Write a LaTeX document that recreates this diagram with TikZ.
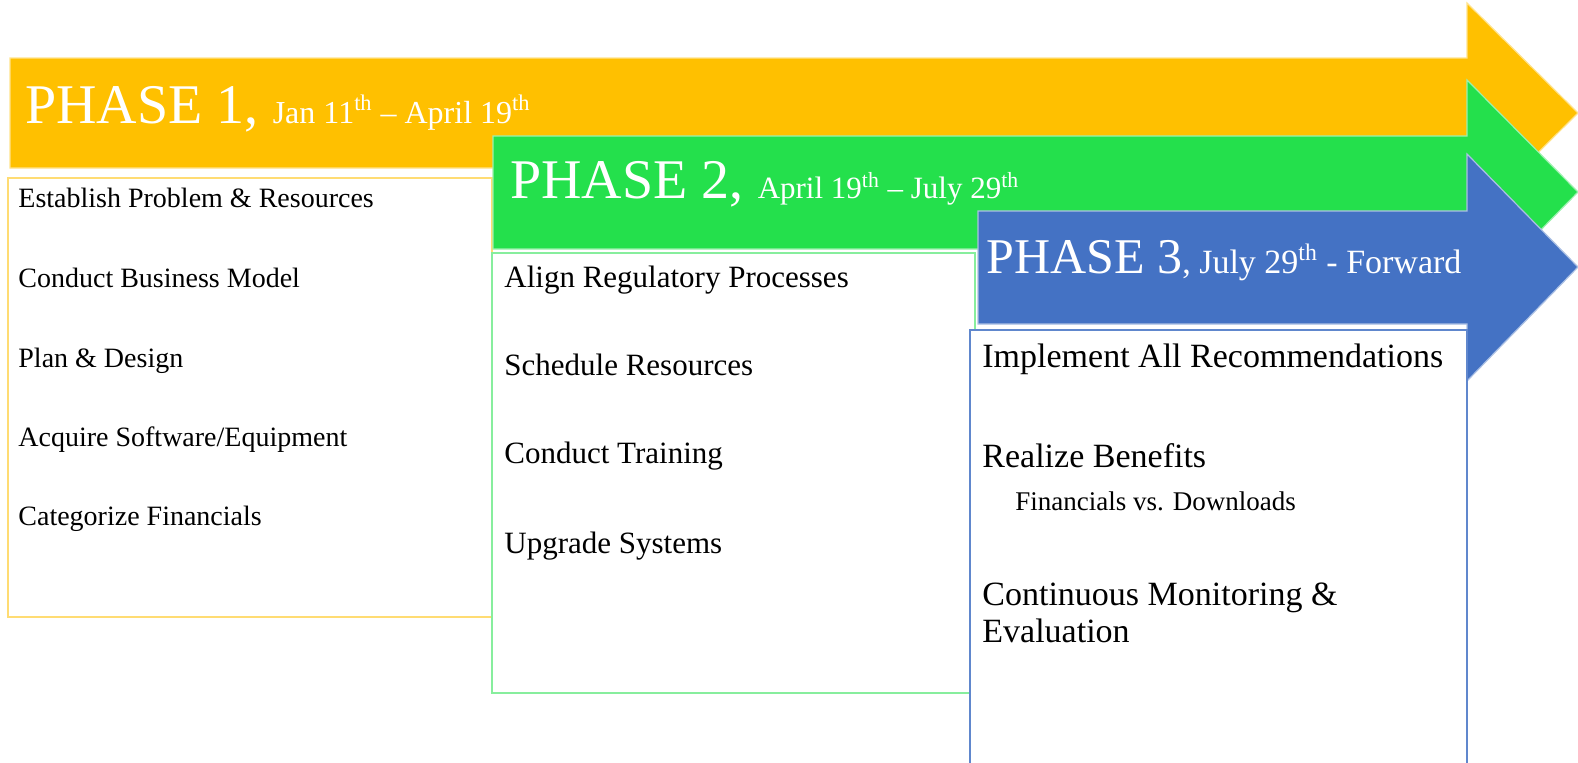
\documentclass[tikz,border=0pt]{standalone}
\usepackage{fontspec}
\setmainfont{Liberation Serif}

\definecolor{phaseorange}{RGB}{255,192,0}
\definecolor{phasegreen}{RGB}{36,224,76}
\definecolor{phaseblue}{RGB}{68,114,196}

\begin{document}
\begin{tikzpicture}[x=0.5pt, y=-0.5pt]
    \tikzset{arrowshape/.style={fill=#1, draw=#1!45!white, line width=0.6pt}};
    \tikzset{listbox/.style={fill=white, draw=#1, line width=0.7pt}};
    \tikzset{title/.style={anchor=base west, inner sep=0pt, text=white}};
    \tikzset{item/.style={anchor=base west, inner sep=0pt, align=left}};

    \useasboundingbox (0, 0) rectangle (1578, 762);
    \clip (0, 0) rectangle (1578, 762);

    % Phase 1
    \path[arrowshape=phaseorange] (10, 58) -- (1467, 58) -- (1467, 3) -- (1578, 113)
        -- (1467, 223) -- (1467, 168) -- (10, 168) -- cycle;
    \node[title] (t1) at (25, 123)
        {\fontsize{28}{30}\selectfont PHASE 1, \fontsize{16}{18}\selectfont Jan 11\textsuperscript{th} – April 19\textsuperscript{th}};
    \path[listbox=phaseorange!55!white] (8, 178) rectangle (492, 617);
    \foreach \n/\y/\t in {a/207/Establish Problem \& Resources, b/287/Conduct Business Model,
        c/367/Plan \& Design, d/446/{Acquire Software/Equipment}, e/525/Categorize Financials}
      { \node[item, font=\fontsize{14}{16}\selectfont] (p1\n) at (18, \y) {\t}; }

    % Phase 2
    \path[arrowshape=phasegreen] (493, 136) -- (1467, 136) -- (1467, 80) -- (1578, 192)
        -- (1467, 305) -- (1467, 249) -- (493, 249) -- cycle;
    \node[title] (t2) at (510, 198)
        {\fontsize{28}{30}\selectfont PHASE 2, \fontsize{15.5}{18}\selectfont April 19\textsuperscript{th} – July 29\textsuperscript{th}};
    \path[listbox=phasegreen!55!white] (492, 253) rectangle (975, 693);
    \foreach \n/\y/\t in {a/287/Align Regulatory Processes, b/375/Schedule Resources,
        c/463/Conduct Training, d/553/Upgrade Systems}
      { \node[item, font=\fontsize{15.5}{18}\selectfont] (p2\n) at (504, \y) {\t}; }

    % Phase 3
    \path[arrowshape=phaseblue] (978, 211) -- (1467, 211) -- (1467, 154) -- (1578, 267)
        -- (1467, 381) -- (1467, 324) -- (978, 324) -- cycle;
    \node[title] (t3) at (986, 273)
        {\fontsize{25}{28}\selectfont PHASE 3\fontsize{17}{20}\selectfont, July 29\textsuperscript{th} - Forward};
    \path[listbox=phaseblue!85!white] (970, 330) rectangle (1467, 775);
    \node[item, font=\fontsize{17}{19.5}\selectfont] (p3a) at (982, 367) {Implement All Recommendations};
    \node[item, font=\fontsize{17}{19.5}\selectfont] (p3b) at (982, 467) {Realize Benefits};
    \node[item, font=\fontsize{13.5}{16}\selectfont] (p3c) at (1015, 510) {Financials vs. Downloads};
    \node[item, font=\fontsize{17}{18.5}\selectfont] (p3d) at (982, 642) {Continuous Monitoring \&\\Evaluation};
\end{tikzpicture}
\end{document}
